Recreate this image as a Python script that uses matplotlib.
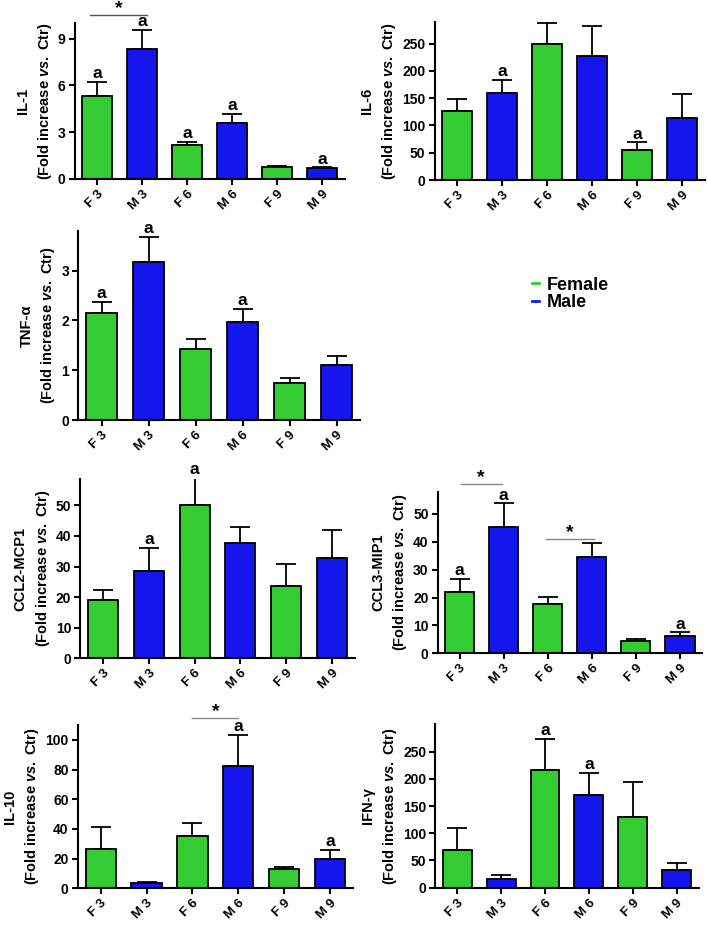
import matplotlib
matplotlib.use("Agg")
import matplotlib.pyplot as plt
from matplotlib.lines import Line2D

plt.rcParams['font.family'] = ['Liberation Sans', 'DejaVu Sans']
plt.rcParams['font.weight'] = 'bold'
plt.rcParams['mathtext.fontset'] = 'custom'
plt.rcParams['mathtext.it'] = 'Liberation Sans:italic:bold'
plt.rcParams['mathtext.rm'] = 'Liberation Sans:bold'

GREEN = '#33cc33'
BLUE = '#1515ee'

groups = ["F 3", "M 3", "F 6", "M 6", "F 9", "M 9"]
bar_colors = [GREEN, BLUE, GREEN, BLUE, GREEN, BLUE]

# ---------------------------------------------------------------- data
il1_mean = [5.35, 8.35, 2.2, 3.6, 0.78, 0.68]
il1_err = [0.85, 1.2, 0.18, 0.58, 0.05, 0.07]
il1_a = [1, 1, 1, 1, 0, 1]

il6_mean = [126, 160, 250, 227, 55, 113]
il6_err = [23, 24, 38, 56, 14, 44]
il6_a = [0, 1, 0, 0, 1, 0]

tnf_mean = [2.15, 3.17, 1.42, 1.96, 0.74, 1.11]
tnf_err = [0.21, 0.5, 0.2, 0.26, 0.1, 0.18]
tnf_a = [1, 1, 0, 1, 0, 0]

ccl2_mean = [19.1, 28.6, 50.2, 37.6, 23.7, 32.9]
ccl2_err = [3.3, 7.4, 8.7, 5.4, 7.2, 8.9]
ccl2_a = [0, 1, 1, 0, 0, 0]

ccl3_mean = [22.1, 45.5, 17.7, 34.4, 4.5, 6.3]
ccl3_err = [4.5, 8.3, 2.4, 5.1, 0.6, 1.2]
ccl3_a = [1, 1, 0, 0, 0, 1]

il10_mean = [26.3, 3.4, 35.3, 82.5, 12.8, 19.6]
il10_err = [14.8, 0.9, 9.0, 20.9, 1.8, 6.2]
il10_a = [0, 0, 0, 1, 0, 1]

ifn_mean = [70, 15.3, 215.7, 169.7, 129.9, 32.5]
ifn_err = [40, 7.4, 58.2, 41.7, 63.7, 12.2]
ifn_a = [0, 0, 1, 1, 0, 0]

# (name, mean, err, letters, ticks, ymax, [(x0, x1, y_line)], line colour, pixel box)
# pixel box = left, right, top, bottom in figure pixels (top-origin)
panels = [
    ("IL-1", il1_mean, il1_err, il1_a, [0, 3, 6, 9], 10.0, [(-0.15, 1.1, 10.5)], '#555555', (74.5, 344.5, 23, 179)),
    ("IL-6", il6_mean, il6_err, il6_a, [0, 50, 100, 150, 200, 250], 290, [], '#777777', (434.5, 704.5, 21.7, 180)),
    ("TNF-α", tnf_mean, tnf_err, tnf_a, [0, 1, 2, 3], 3.8, [], '#777777', (78.2, 360, 230.7, 420)),
    ("CCL2-MCP1", ccl2_mean, ccl2_err, ccl2_a, [0, 10, 20, 30, 40, 50], 58.6, [], '#777777', (80.4, 354.6, 479, 658.3)),
    ("CCL3-MIP1", ccl3_mean, ccl3_err, ccl3_a, [0, 10, 20, 30, 40, 50], 58, [(0.02, 0.95, 60.6), (1.95, 3.04, 40.9)], '#888888', (437.7, 702, 491.7, 653.3)),
    ("IL-10", il10_mean, il10_err, il10_a, [0, 20, 40, 60, 80, 100], 110, [(2.0, 3.0, 114.6)], '#888888', (77.7, 353, 725, 888.3)),
    ("IFN-γ", ifn_mean, ifn_err, ifn_a, [0, 50, 100, 150, 200, 250], 300, [], '#777777', (435.3, 698.6, 724.3, 887.7)),
]

W, H = 708, 925
fig = plt.figure(figsize=(W / 100, H / 100), dpi=100)

for name, mean, err, letters, ticks, ymax, sig, lcol, box in panels:
    l, r, t, b = box
    ax = fig.add_axes([l / W, 1 - b / H, (r - l) / W, (b - t) / H])
    x = list(range(len(groups)))
    ax.bar(x, mean, width=0.66, color=bar_colors, edgecolor='black', linewidth=1.3, zorder=2)
    ax.errorbar(x, mean, yerr=[[0] * len(err), err], fmt='none', ecolor='black',
                elinewidth=1.3, capsize=7, capthick=1.3, zorder=1)
    for xi, m, e, flag in zip(x, mean, err, letters):
        if flag:
            ax.text(xi, m + e + 0.005 * ymax, "a", ha='center', va='bottom',
                    fontsize=12.5, fontweight='bold')
    for x0, x1, yl in sig:
        ax.plot([x0, x1], [yl, yl], color=lcol, lw=1, clip_on=False)
        ax.text((x0 + x1) / 2, yl - 0.01 * ymax, "*", ha='center', va='bottom',
                fontsize=14, fontweight='bold', clip_on=False)
    ax.set_xlim(-0.5, 5.5)
    ax.set_ylim(0, ymax)
    ax.set_yticks(ticks)
    ax.set_yticklabels([str(v) for v in ticks], fontsize=10, fontweight='bold')
    ax.set_xticks(x)
    ax.set_xticklabels(groups, rotation=45, ha='right', rotation_mode='anchor',
                       fontsize=9.5, fontweight='bold')
    ax.spines['top'].set_visible(False)
    ax.spines['right'].set_visible(False)
    ax.spines['left'].set_linewidth(1.5)
    ax.spines['bottom'].set_linewidth(1.5)
    ax.tick_params(axis='both', direction='out', length=4.5, width=1.5, pad=2)
    ax.set_ylabel(name + "\n(Fold increase $\\it{vs.}$ Ctr)", fontsize=10.5,
                  fontweight='bold', linespacing=1.45, labelpad=3)

handles = [Line2D([], [], color=GREEN, lw=2), Line2D([], [], color=BLUE, lw=2)]
fig.legend(handles, ["Female", "Male"], loc='center left',
           bbox_to_anchor=(516 / W, 1 - 294 / H), frameon=False,
           handlelength=0.4, handletextpad=0.4, labelspacing=0.05,
           prop={'size': 13, 'weight': 'bold'})

fig.savefig("out.png", dpi=100)
